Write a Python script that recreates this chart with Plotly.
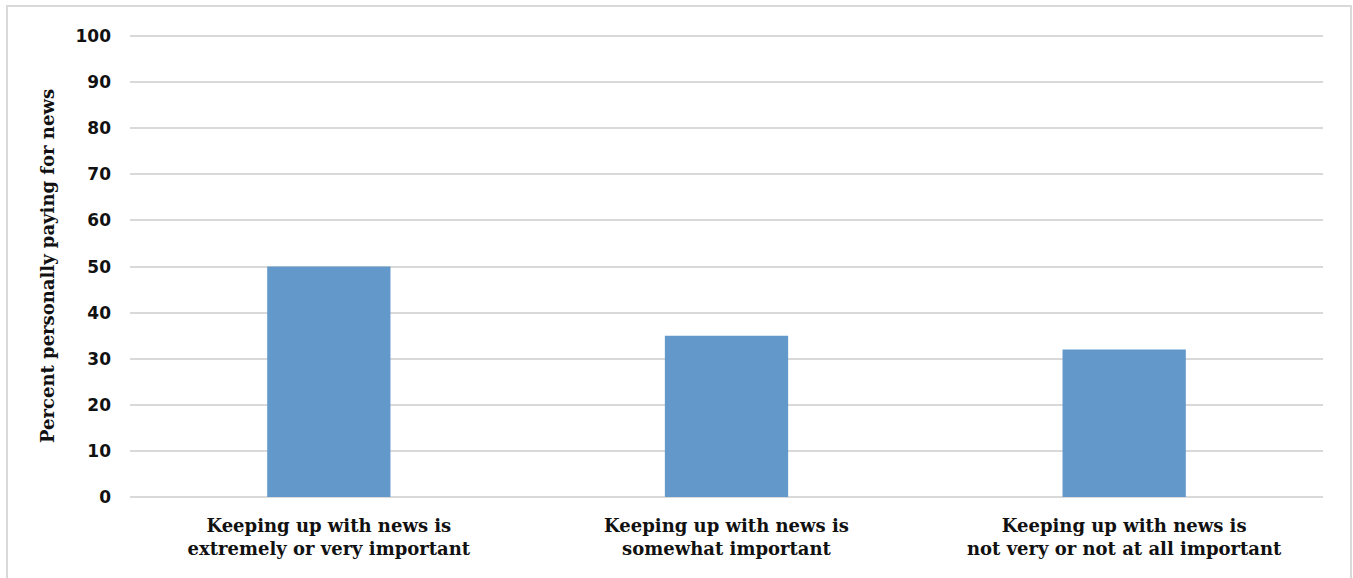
import plotly.graph_objects as go

categories = [
    "Keeping up with news is<br>extremely or very important",
    "Keeping up with news is<br>somewhat important",
    "Keeping up with news is<br>not very or not at all important",
]
values = [50, 35, 32]
y_ticks = list(range(0, 101, 10))

W, H = 1353, 578
L, R, T, B = 130, 30, 35, 81
pw, ph = W - L - R, H - T - B

def px_x(x):
    return (x - L) / pw

def px_y(y):
    return (H - B - y) / ph

fig = go.Figure(
    go.Bar(
        x=categories,
        y=values,
        marker=dict(color="#6398CA", line=dict(width=0)),
        hoverinfo="skip",
    )
)

label_font = dict(family="DejaVu Serif", size=18, color="#111111", weight="bold")

fig.update_layout(
    width=W,
    height=H,
    margin=dict(l=L, r=R, t=T, b=B),
    paper_bgcolor="white",
    plot_bgcolor="white",
    bargap=0.69,
    showlegend=False,
    xaxis=dict(
        showgrid=False,
        showline=False,
        zeroline=False,
        ticks="",
        tickfont=label_font,
        ticklabelstandoff=16,
    ),
    yaxis=dict(
        range=[0, 100.25],
        tickvals=y_ticks,
        showgrid=True,
        gridcolor="#d9d9d9",
        gridwidth=2,
        zeroline=True,
        zerolinecolor="#d9d9d9",
        zerolinewidth=2,
        showline=False,
        ticks="",
        ticklabelstandoff=18,
        tickfont=dict(family="DejaVu Sans", size=17, color="#111111", weight="bold"),
        title=dict(
            text="Percent personally paying for news",
            font=dict(family="DejaVu Serif", size=18, color="#111111", weight="bold"),
            standoff=16,
        ),
    ),
    shapes=[
        dict(
            type="rect",
            xref="paper",
            yref="paper",
            x0=px_x(7),
            x1=px_x(1351),
            y0=px_y(600),
            y1=px_y(6),
            line=dict(color="#d9d9d9", width=2),
            fillcolor="rgba(0,0,0,0)",
            layer="below",
        )
    ],
)

fig.write_html("out.html")
